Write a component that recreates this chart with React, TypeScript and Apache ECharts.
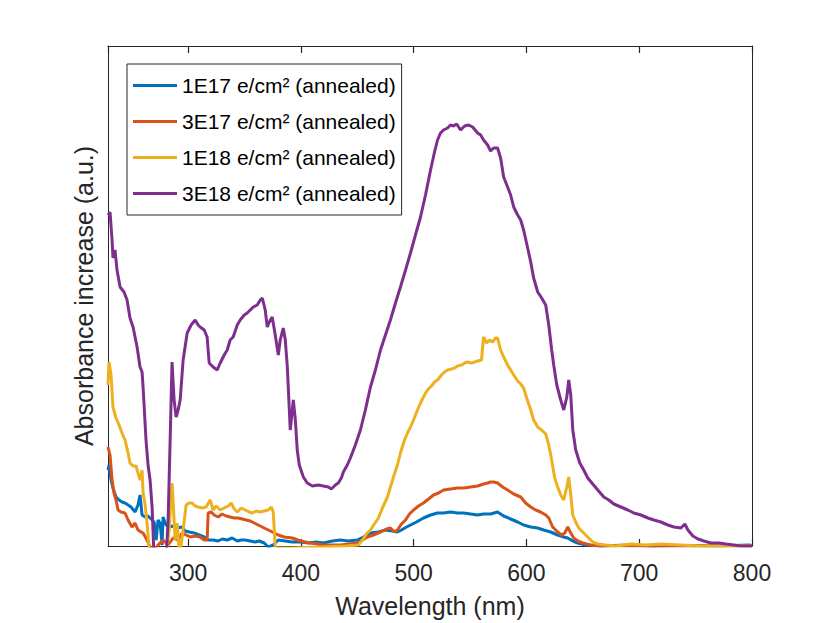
import React, { useEffect, useRef } from "react";
import * as echarts from "echarts";

// Wavelength (nm) / absorbance increase (a.u.) pairs
const s1E17: [number, number][] = [
  [229.0, 15.2], [229.9, 16.2], [231.7, 13.2], [233.4, 11.6], [236.1, 9.8], [238.8, 9.2], [241.4, 8.8],
  [244.1, 8.6], [246.8, 8.2], [249.4, 7.8], [253.0, 6.8], [255.6, 8.2], [257.4, 10.2], [259.2, 6.2],
  [261.9, 5.8], [264.5, 6.0], [267.2, 5.4], [269.9, 4.8], [271.7, 1.2], [273.4, 5.2], [275.2, 4.6],
  [277.0, 0.2], [277.8, 5.8], [280.5, 4.2], [283.2, 3.8], [286.7, 4.0], [290.3, 3.6], [294.7, 3.8],
  [297.4, 3.0], [301.0, 2.8], [305.4, 2.6], [309.8, 2.2], [314.3, 1.8], [317.8, 1.2], [322.2, 1.2],
  [326.7, 1.0], [330.2, 1.4], [334.7, 1.2], [339.1, 1.6], [343.6, 1.0], [347.1, 1.2], [350.7, 1.2],
  [355.1, 1.0], [359.5, 0.8], [363.1, 1.0], [367.5, 0.6], [371.1, -0.2], [375.5, 0.2], [380.0, 1.2],
  [386.2, 1.0], [392.4, 0.8], [399.5, 0.8], [406.6, 0.6], [413.7, 0.8], [419.9, 0.6], [427.9, 1.0],
  [435.0, 1.2], [442.1, 1.0], [450.1, 1.2], [455.4, 1.8], [461.7, 2.6], [468.8, 2.8], [475.0, 3.2],
  [481.2, 3.0], [485.6, 2.8], [489.2, 3.2], [493.7, 3.8], [497.2, 4.2], [502.5, 4.8], [508.7, 5.6],
  [515.0, 6.2], [521.2, 6.6], [526.5, 6.6], [532.7, 6.8], [538.9, 6.6], [544.3, 6.6], [550.5, 6.4],
  [556.7, 6.2], [562.0, 6.4], [568.2, 6.4], [574.4, 6.8], [579.8, 6.0], [586.0, 5.4], [592.2, 4.8],
  [597.5, 4.2], [603.8, 3.8], [610.0, 3.6], [615.3, 3.2], [621.5, 2.8], [627.7, 2.2], [633.1, 1.8],
  [636.6, 1.6], [641.1, 1.0], [645.5, 0.6], [652.6, 0.2], [665.9, 0.0], [690.0, 0.2], [710.3, 0.0],
  [740.0, 0.1], [770.0, 0.0], [797.5, 0.2], [800.0, 0.0],
];

const s3E17: [number, number][] = [
  [229.0, 19.8], [230.8, 18.2], [232.6, 13.2], [234.3, 10.6], [236.1, 9.2], [237.9, 7.2], [240.5, 6.8],
  [244.1, 6.6], [246.8, 5.2], [250.3, 3.8], [253.0, 4.6], [255.6, 3.2], [258.3, 2.8], [260.1, 2.6],
  [263.6, 1.2], [266.3, -0.2], [269.0, -1.2], [273.4, 0.2], [277.8, 1.2], [282.3, 0.2], [286.7, 1.6],
  [291.2, 1.2], [294.7, 2.6], [298.3, 2.2], [301.8, 1.8], [306.3, 2.0], [310.7, 1.8], [314.3, 1.2],
  [316.9, 1.2], [317.8, 6.6], [320.5, 6.8], [323.1, 6.2], [326.7, 5.8], [330.2, 6.4], [333.8, 6.0],
  [337.3, 5.8], [340.9, 5.6], [344.4, 5.6], [348.0, 5.4], [351.6, 5.2], [355.1, 5.0], [358.7, 4.6],
  [362.2, 4.2], [365.8, 3.8], [369.3, 3.4], [372.9, 3.0], [376.4, 2.6], [380.0, 2.2], [385.3, 1.8],
  [392.4, 1.6], [399.5, 1.0], [408.4, 0.6], [419.9, 0.2], [435.0, 0.2], [450.1, 0.6], [454.6, 1.2],
  [459.0, 1.8], [464.3, 2.2], [470.6, 2.8], [475.9, 3.4], [479.4, 3.6], [483.0, 2.8], [485.6, 3.2],
  [489.2, 4.4], [492.8, 5.2], [496.3, 6.4], [499.9, 7.2], [504.3, 8.0], [508.7, 8.6], [513.2, 9.4],
  [517.6, 10.2], [522.1, 10.6], [526.5, 11.2], [532.7, 11.4], [538.9, 11.6], [544.3, 11.6], [550.5, 11.8],
  [556.7, 12.0], [562.0, 12.4], [565.6, 12.6], [568.2, 12.8], [570.9, 12.8], [574.4, 12.6], [578.9, 11.8],
  [583.3, 11.2], [588.7, 10.4], [594.9, 9.8], [599.3, 8.6], [603.8, 7.8], [608.2, 7.2], [612.6, 6.8],
  [617.1, 6.2], [619.8, 5.6], [623.3, 3.8], [627.7, 2.8], [631.3, 2.2], [634.0, 2.6], [636.6, 3.8],
  [639.3, 2.6], [641.9, 1.6], [645.5, 1.0], [649.9, 0.6], [657.0, 0.2], [665.9, 0.0], [683.7, 0.1],
  [710.0, 0.0], [750.0, 0.1], [800.0, 0.0],
];

const s1E18: [number, number][] = [
  [229.0, 32.2], [229.9, 36.8], [231.7, 34.2], [233.4, 27.8], [236.1, 25.6], [238.8, 24.2], [241.4, 22.6],
  [244.1, 21.2], [246.8, 18.6], [248.5, 16.6], [251.2, 16.0], [253.9, 16.0], [255.6, 14.6], [257.4, 13.2],
  [259.2, 15.2], [260.1, 10.6], [261.9, 8.2], [263.6, 4.6], [265.4, -0.2], [267.2, -2.8], [275.2, -2.8],
  [280.5, -1.8], [283.2, 3.2], [285.8, 12.6], [286.7, 9.2], [288.5, 1.2], [290.3, 4.6], [292.1, -0.8],
  [293.8, 0.2], [295.6, 3.2], [298.3, 8.2], [300.9, 8.6], [303.6, 8.6], [306.3, 8.0], [308.9, 7.8],
  [312.5, 7.6], [316.0, 7.8], [319.6, 9.2], [322.2, 7.2], [324.9, 8.0], [328.5, 7.2], [332.0, 7.6],
  [335.6, 8.0], [338.2, 8.6], [340.9, 7.4], [343.6, 6.8], [347.1, 7.6], [350.7, 7.2], [354.2, 6.8],
  [356.9, 6.6], [360.4, 7.0], [364.0, 6.8], [367.5, 7.0], [371.1, 7.2], [373.8, 7.8], [375.5, 6.8],
  [377.3, -0.2], [378.2, -0.4], [390.6, -0.4], [417.3, -0.2], [439.5, 0.0], [451.0, 0.2], [454.6, 1.2],
  [458.1, 2.4], [461.7, 3.2], [465.2, 4.4], [468.8, 5.6], [472.3, 7.6], [476.8, 9.8], [479.4, 11.8],
  [482.1, 13.8], [485.6, 16.2], [488.3, 18.6], [491.9, 21.2], [494.5, 22.6], [497.2, 23.8], [499.9, 25.2],
  [503.4, 27.2], [506.1, 28.6], [509.6, 30.2], [512.3, 31.2], [515.8, 32.0], [518.5, 32.8], [521.2, 33.2],
  [524.7, 34.2], [527.4, 34.8], [530.1, 35.2], [533.6, 35.4], [536.3, 35.6], [538.9, 36.0], [542.5, 36.2],
  [545.2, 36.6], [547.8, 36.8], [551.4, 36.6], [554.0, 36.8], [556.7, 37.0], [560.2, 37.2], [561.1, 39.6],
  [562.0, 41.8], [564.7, 40.6], [567.3, 41.2], [570.0, 40.8], [572.7, 41.6], [574.4, 41.6], [577.1, 39.2],
  [579.8, 37.8], [583.3, 36.2], [586.0, 35.2], [588.7, 34.2], [592.2, 33.0], [594.9, 32.4], [597.5, 31.6],
  [600.2, 29.6], [603.8, 27.2], [606.4, 25.2], [610.0, 23.8], [613.5, 23.2], [617.1, 22.4], [619.8, 20.2],
  [622.4, 17.2], [625.1, 13.6], [627.7, 11.8], [630.4, 10.2], [633.1, 9.2], [635.8, 11.8], [637.5, 13.8],
  [639.3, 10.2], [641.1, 6.2], [643.7, 4.8], [646.4, 3.6], [649.0, 3.0], [652.6, 2.2], [655.2, 1.6],
  [658.8, 0.8], [663.3, 0.4], [670.4, 0.2], [679.2, 0.0], [692.5, 0.4], [705.8, 0.2], [719.2, 0.4],
  [737.0, 0.2], [754.7, 0.0], [772.5, 0.1], [800.0, 0.0],
];

const s3E18: [number, number][] = [
  [229.0, 66.2], [230.8, 66.8], [232.6, 61.2], [233.4, 57.6], [235.2, 59.2], [237.0, 55.2], [239.7, 51.8],
  [243.2, 50.8], [245.9, 49.2], [248.5, 45.6], [251.2, 43.8], [254.8, 39.8], [257.4, 35.8], [259.2, 34.8],
  [260.1, 31.8], [262.7, 21.2], [264.5, 16.2], [266.3, 13.2], [268.1, 7.8], [269.9, -2.8], [275.2, -10.8],
  [280.5, -2.8], [282.3, 5.2], [284.1, 21.2], [285.8, 36.8], [287.6, 29.2], [289.4, 25.8], [291.2, 27.2],
  [293.0, 29.2], [295.6, 37.2], [299.2, 42.6], [302.7, 44.2], [306.3, 45.2], [308.9, 44.2], [310.7, 43.8],
  [314.3, 43.2], [316.9, 41.8], [318.7, 36.6], [322.2, 35.8], [325.8, 35.2], [328.5, 36.6], [332.0, 38.2],
  [334.7, 39.2], [337.3, 41.2], [340.0, 41.8], [343.6, 44.2], [346.2, 45.2], [349.8, 46.2], [352.4, 46.6],
  [355.1, 47.2], [357.8, 47.8], [361.3, 48.2], [364.0, 49.2], [365.8, 49.6], [368.4, 47.2], [370.2, 43.8],
  [372.9, 45.2], [374.6, 45.8], [377.3, 42.2], [380.0, 38.2], [381.7, 41.2], [384.4, 43.6], [386.2, 41.2],
  [388.0, 35.8], [390.6, 23.2], [392.4, 27.2], [393.3, 29.2], [395.1, 25.2], [396.8, 19.2], [398.6, 16.2],
  [402.2, 13.8], [405.7, 12.6], [410.2, 12.0], [415.5, 12.2], [419.9, 12.0], [424.4, 11.8], [427.0, 11.4],
  [430.6, 12.2], [433.2, 12.6], [435.9, 13.6], [437.7, 14.8], [441.2, 16.2], [443.9, 17.6], [448.3, 20.2],
  [452.8, 23.2], [457.2, 27.2], [461.7, 31.8], [466.1, 35.2], [470.6, 39.2], [475.0, 42.2], [479.4, 45.2],
  [483.9, 48.6], [488.3, 51.8], [492.8, 55.2], [497.2, 58.6], [501.6, 62.2], [506.1, 65.8], [510.5, 70.2],
  [515.0, 75.2], [518.5, 78.8], [521.2, 81.2], [523.8, 82.6], [526.5, 83.2], [530.1, 83.6], [532.7, 84.2],
  [535.4, 84.0], [538.1, 84.4], [541.6, 83.2], [545.2, 84.0], [548.7, 84.2], [552.3, 83.8], [556.7, 82.6],
  [559.4, 82.2], [562.0, 81.2], [565.6, 80.2], [568.2, 79.0], [570.9, 79.6], [574.4, 79.6], [577.1, 77.6],
  [579.8, 73.8], [583.3, 71.8], [586.0, 70.2], [588.7, 67.8], [592.2, 66.2], [594.9, 65.2], [597.5, 63.2],
  [601.1, 59.6], [603.8, 56.8], [606.4, 53.6], [610.0, 50.8], [613.5, 49.6], [617.1, 48.2], [619.8, 44.2],
  [622.4, 39.2], [624.2, 36.2], [626.9, 32.2], [630.4, 29.2], [633.1, 27.2], [635.8, 29.8], [637.5, 33.2],
  [639.3, 30.2], [641.1, 23.2], [643.7, 19.2], [647.3, 16.6], [650.8, 15.2], [654.4, 13.6], [658.8, 12.4],
  [663.3, 11.2], [668.6, 9.8], [673.0, 9.2], [677.5, 8.4], [683.7, 7.8], [689.9, 7.2], [695.2, 6.6],
  [701.5, 6.2], [707.7, 5.6], [713.0, 5.2], [719.2, 4.8], [725.4, 4.2], [730.8, 3.8], [737.0, 3.6],
  [740.5, 4.4], [743.2, 3.2], [747.6, 2.0], [752.1, 1.4], [757.4, 1.0], [763.6, 0.6], [770.7, 0.6],
  [776.9, 0.4], [784.0, 0.2], [790.2, 0.0], [800.0, 0.0],
];

const seriesNames = [
  "1E17 e/cm² (annealed)",
  "3E17 e/cm² (annealed)",
  "1E18 e/cm² (annealed)",
  "3E18 e/cm² (annealed)",
];
const seriesColors = ["#0072BD", "#D95319", "#EDB120", "#7E2F8E"];
const xTicks = [300, 400, 500, 600, 700, 800];
const xRange = [229, 800];
const yRange = [0, 100];

const FONT = "'Liberation Sans', Arial, Helvetica, sans-serif";
const AXIS_COLOR = "#262626";
const TICK_LEN = 7;

export default function App() {
  const ref = useRef<HTMLDivElement>(null);
  useEffect(() => {
    if (!ref.current) return;
    const chart = echarts.init(ref.current, undefined, { renderer: "svg" });
    const allData = [s1E17, s3E17, s1E18, s3E18];
    const lineSeries = allData.map((d, i) => ({
      name: seriesNames[i],
      type: "line",
      xAxisIndex: 0,
      yAxisIndex: 0,
      data: d,
      symbol: "none",
      showSymbol: false,
      clip: true,
      smooth: false,
      color: seriesColors[i],
      itemStyle: { color: seriesColors[i] },
      lineStyle: { color: seriesColors[i], width: 3 },
    }));
    const axisLine = { show: true, onZero: false, lineStyle: { color: AXIS_COLOR, width: 1 } };
    const xTick = { show: true, inside: true, length: TICK_LEN, lineStyle: { color: AXIS_COLOR, width: 1.2 } };
    const option: any = {
      animation: false,
      backgroundColor: "#ffffff",
      textStyle: { fontFamily: FONT },
      grid: { left: 108, right: 78, top: 46, bottom: 77 },
      legend: {
        orient: "vertical",
        left: 127,
        top: 64,
        padding: [4, 6, 4, 6],
        itemGap: 1,
        itemWidth: 44,
        itemHeight: 3,
        icon: "rect",
        borderColor: AXIS_COLOR,
        borderWidth: 1,
        backgroundColor: "#ffffff",
        borderRadius: 0,
        textStyle: {
          fontFamily: FONT,
          fontSize: 21,
          color: "#000000",
          lineHeight: 24,
          padding: [11, 0, 0, 0],
        },
        data: seriesNames,
      },
      xAxis: [
        {
          type: "value",
          min: xRange[0],
          max: xRange[1],
          position: "bottom",
          name: "Wavelength (nm)",
          nameLocation: "middle",
          nameGap: 47,
          nameTextStyle: { fontFamily: FONT, fontSize: 25, color: AXIS_COLOR },
          axisLine,
          axisTick: xTick,
          axisLabel: {
            show: true,
            margin: 15,
            fontFamily: FONT,
            fontSize: 23,
            color: AXIS_COLOR,
            showMinLabel: false,
            formatter: (v: number) => (xTicks.indexOf(v) >= 0 ? String(v) : ""),
          },
          splitLine: { show: false },
        },
        {
          type: "value",
          min: xRange[0],
          max: xRange[1],
          position: "top",
          axisLine,
          axisTick: xTick,
          axisLabel: { show: false },
          splitLine: { show: false },
        },
      ],
      yAxis: [
        {
          type: "value",
          min: yRange[0],
          max: yRange[1],
          position: "left",
          name: "Absorbance increase (a.u.)",
          nameLocation: "middle",
          nameRotate: 90,
          nameGap: 12,
          nameTextStyle: { fontFamily: FONT, fontSize: 25, color: AXIS_COLOR },
          axisLine,
          axisTick: { show: false },
          axisLabel: { show: false },
          splitLine: { show: false },
        },
        {
          type: "value",
          min: yRange[0],
          max: yRange[1],
          position: "right",
          axisLine,
          axisTick: { show: false },
          axisLabel: { show: false },
          splitLine: { show: false },
        },
      ],
      series: lineSeries,
    };
    chart.setOption(option);
    return () => chart.dispose();
  }, []);
  return (
    <div
      ref={ref}
      style={{ position: "fixed", left: 0, top: 0, width: 830, height: 623, background: "#fff" }}
    />
  );
}
